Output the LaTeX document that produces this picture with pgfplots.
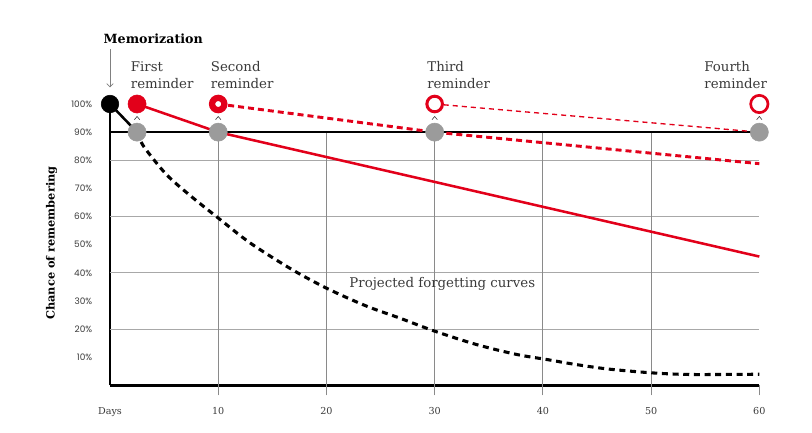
\documentclass[border=0pt]{standalone}
\usepackage{pgfplots}
\pgfplotsset{compat=1.18}
\usepackage{fontspec}
\setmainfont{DejaVu Serif}
\newfontfamily\tickfont{Poppins}
\usetikzlibrary{arrows.meta}
\definecolor{rred}{HTML}{E2001A}
\definecolor{dotgray}{HTML}{9B9B9B}
\definecolor{gridgray}{HTML}{A8A8A8}
\definecolor{vgray}{HTML}{8A8A8A}
\definecolor{txt}{HTML}{3A3A3A}
\pgfdeclareplotmark{caret}{%
  \pgfpathmoveto{\pgfqpoint{-2pt}{-1.2pt}}%
  \pgfpathlineto{\pgfqpoint{0pt}{1.2pt}}%
  \pgfpathlineto{\pgfqpoint{2pt}{-1.2pt}}%
  \pgfusepathqstroke}
\pgfplotstableread{
x y
2.5 90
3.1 85
5.2 75
7.4 67.5
10 59.5
13 50.5
16.9 41
20.2 34.2
23.7 28.2
26.8 23.9
30 19.3
33.9 14.5
37.6 11
40.4 9.2
42.8 7.6
45.9 5.9
50 4.5
53.6 3.9
60 4.0
}\forgetting
\begin{document}
\begin{tikzpicture}
\begin{axis}[
  scale only axis, width=487pt, height=211.1pt,
  xmin=0, xmax=60, ymin=0, ymax=100,
  axis lines=left, axis line style={-, line width=1.9pt, black},
  clip=false,
  xtick={0,10,20,30,40,50,60},
  xticklabels={Days,10,20,30,40,50,60},
  xticklabel style={font=\fontsize{7.2}{8}\selectfont, text=txt, anchor=base, inner sep=0pt, yshift=-20pt},
  ytick={10,20,30,40,50,60,70,80,90,100},
  yticklabels={10\%,20\%,30\%,40\%,50\%,60\%,70\%,80\%,90\%,100\%},
  yticklabel style={font=\tickfont\fontsize{6.7}{7}\selectfont, text=txt, anchor=east, inner sep=0pt, xshift=-11pt},
  tick style={draw=none},
]
% horizontal grid
\pgfplotsinvokeforeach{20,40,60,80}{
  \addplot[gridgray, line width=0.8pt, forget plot] coordinates {(0,#1) (60,#1)};
}
% vertical grid
\pgfplotsinvokeforeach{10,20,30,40,50}{
  \addplot[vgray, line width=0.8pt, forget plot] coordinates {(#1,-3.5) (#1,90)};
}
\addplot[vgray, line width=0.8pt] coordinates {(60,-3.5) (60,0)};
% 90% line
\addplot[black, line width=1.9pt] coordinates {(0,90) (60,90)};
% forgetting curves
\addplot[black, line width=2.3pt, dash pattern=on 4.5pt off 3.5pt, smooth, tension=0.5] table {\forgetting};
\addplot[black, line width=1.9pt] coordinates {(0,100) (2.5,90)};
\addplot[rred, line width=1.9pt] coordinates {(2.5,100) (10,90) (60,45.8)};
\addplot[rred, line width=2.2pt, dash pattern=on 4.5pt off 3pt] coordinates {(10,100) (30,90) (60,78.8)};
\addplot[rred, line width=1pt, dash pattern=on 3.8pt off 3pt] coordinates {(30,100) (60,90)};
% carets
\addplot[txt, only marks, mark=caret, mark options={line width=0.45pt}] coordinates {(2.5,95) (10,95) (30,95) (60,95)};
% dots
\addplot[dotgray, only marks, mark=*, mark size=6.8pt, mark options={draw=dotgray, fill=dotgray, line width=0.4pt}] coordinates {(2.5,90) (10,90) (30,90) (60,90)};
\addplot[black, only marks, mark=*, mark size=6.6pt, mark options={draw=black, fill=black, line width=0.4pt}] coordinates {(0,100)};
\addplot[rred, only marks, mark=*, mark size=6.8pt, mark options={draw=rred, fill=rred, line width=0.4pt}] coordinates {(2.5,100)};
\addplot[rred, only marks, mark=*, mark size=4.6pt, mark options={draw=rred, fill=white, line width=4.7pt}] coordinates {(10,100)};
\addplot[rred, only marks, mark=*, mark size=5.85pt, mark options={draw=rred, fill=white, line width=2.25pt}] coordinates {(30,100)};
\addplot[rred, only marks, mark=*, mark size=6.5pt, mark options={draw=rred, fill=white, line width=2pt}] coordinates {(60,100)};
% annotations
\node[anchor=base, font=\bfseries\fontsize{9.5}{11}\selectfont] at (axis cs:4.0,121.6) {Memorization};
\draw[gray, line width=0.5pt, -{Straight Barb[length=2.5pt, width=5pt]}] (axis cs:0,119.5) -- (axis cs:0,105.9);
\begin{scope}[every node/.style={anchor=base west, inner sep=0pt, text=txt, font=\fontsize{10}{12}\selectfont}]
\node at (axis cs:1.91,111.5) {First};
\node at (axis cs:1.91,105.4) {reminder};
\node at (axis cs:9.3,111.5) {Second};
\node at (axis cs:9.3,105.4) {reminder};
\node at (axis cs:29.3,111.5) {Third};
\node at (axis cs:29.3,105.4) {reminder};
\node at (axis cs:54.9,111.5) {Fourth};
\node at (axis cs:54.9,105.4) {reminder};
\node at (axis cs:22.1,34.9) {Projected forgetting curves};
\end{scope}
\node[rotate=90, font=\bfseries\fontsize{8.5}{10}\selectfont] at (axis cs:-5.4,50.6) {Chance of remembering};
\end{axis}
\pgfresetboundingbox
\path[use as bounding box] (-82.5pt,-35.6pt) rectangle (526.5pt,289.1pt);
\end{tikzpicture}
\end{document}
